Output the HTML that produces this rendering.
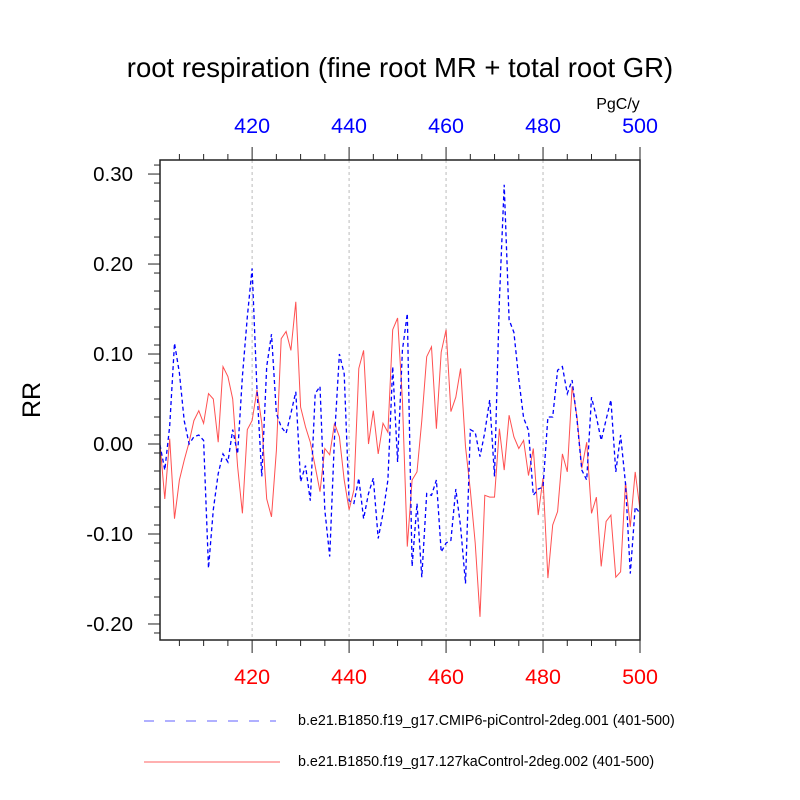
<!DOCTYPE html>
<html><head><meta charset="utf-8"><style>
body{margin:0;background:#fff;}
svg{display:block;font-family:"Liberation Sans",sans-serif;}
</style></head><body>
<svg id="chart" width="800" height="800" viewBox="0 0 800 800">
<text x="400" y="77" text-anchor="middle" font-size="27.5">root respiration (fine root MR + total root GR)</text>
<text x="618" y="109" text-anchor="middle" font-size="16">PgC/y</text>
<text transform="translate(40,400) rotate(-90)" text-anchor="middle" font-size="25">RR</text>
<g id="grid"></g>
<g id="axes"></g>
<g id="series"></g>
<rect x="160" y="160" width="480" height="480" fill="none" stroke="#222" stroke-width="1.5"/>
<line x1="144" y1="721" x2="276" y2="721" stroke="#6060ff" stroke-width="1" stroke-dasharray="10,11"/>
<text x="298" y="725" font-size="14.3">b.e21.B1850.f19_g17.CMIP6-piControl-2deg.001 (401-500)</text>
<line x1="144" y1="762" x2="280" y2="762" stroke="#ff6060" stroke-width="1"/>
<text x="298" y="766" font-size="14.3">b.e21.B1850.f19_g17.127kaControl-2deg.002 (401-500)</text>
</svg>
<script>
const startYear = 401;
const xTicks = [420, 440, 460, 480, 500];
const yTicks = [0.30, 0.20, 0.10, 0.00, -0.10, -0.20];
const yTickLabels = ["0.30", "0.20", "0.10", "0.00", "-0.10", "-0.20"];
const bluePiControl = [-0.001,-0.029,0.02,0.112,0.079,0.026,0.0,0.008,0.01,0.004,
-0.138,-0.073,-0.033,-0.011,-0.02,0.016,-0.011,0.075,0.141,0.195,
0.06,-0.036,0.086,0.122,0.034,0.019,0.012,0.034,0.058,-0.042,
-0.024,-0.063,0.056,0.064,-0.073,-0.125,0.007,0.1,0.078,-0.063,
-0.066,-0.038,-0.083,-0.055,-0.038,-0.105,-0.077,-0.04,0.086,-0.02,
0.104,0.145,-0.136,-0.066,-0.148,-0.055,-0.057,-0.04,-0.12,-0.11,
-0.107,-0.05,-0.092,-0.155,0.016,0.013,-0.014,0.013,0.049,-0.036,
0.16,0.288,0.138,0.124,0.072,0.029,0.015,-0.057,-0.05,-0.048,
0.03,0.03,0.082,0.086,0.056,0.071,0.027,-0.029,-0.04,0.052,
0.03,0.004,0.027,0.049,-0.031,0.01,-0.044,-0.144,-0.07,-0.077];
const red127ka = [0.0,-0.061,0.006,-0.083,-0.04,-0.018,0.002,0.026,0.037,0.023,
0.056,0.05,0.002,0.086,0.075,0.05,-0.025,-0.077,0.016,0.026,
0.06,0.023,-0.061,-0.081,-0.007,0.117,0.125,0.104,0.158,0.041,
0.019,0.002,-0.025,-0.053,-0.005,-0.012,0.023,0.008,-0.04,-0.073,
-0.051,0.084,0.104,0.0,0.037,-0.011,0.023,0.013,0.127,0.14,
0.049,-0.114,-0.04,-0.031,0.026,0.097,0.108,0.017,0.102,0.127,
0.036,0.052,0.084,-0.003,-0.051,-0.11,-0.192,-0.057,-0.059,-0.059,
0.017,-0.029,0.032,0.008,-0.005,0.004,-0.035,-0.005,-0.079,-0.038,
-0.149,-0.09,-0.075,-0.011,-0.031,0.064,0.03,-0.027,0.002,-0.077,
-0.059,-0.136,-0.086,-0.079,-0.148,-0.142,-0.042,-0.092,-0.031,-0.073];

const NS = "http://www.w3.org/2000/svg";
const X0=160, X1=640, Y0=160, Y1=640;
const xMin=401, xMax=500, yMin=-0.2178, yMax=0.3156;
function xs(v){return X0+(v-xMin)/(xMax-xMin)*(X1-X0);}
function ys(v){return Y1-(v-yMin)/(yMax-yMin)*(Y1-Y0);}
function mk(tag, attrs, parent){const e=document.createElementNS(NS,tag);for(const k in attrs)e.setAttribute(k,attrs[k]);parent.appendChild(e);return e;}
const grid=document.getElementById('grid'), axes=document.getElementById('axes'), ser=document.getElementById('series');

xTicks.forEach(t=>{
  const x=xs(t);
  if(t<500){
    const g=mk('line',{x1:x,y1:Y0,x2:x,y2:Y1,stroke:'#bbb','stroke-width':1,'stroke-dasharray':'3,3'},grid);
    
    
  }
  const a=mk('line',{x1:x,y1:Y0,x2:x,y2:Y0-13,stroke:'#222','stroke-width':1},axes);
  
  
  const b=mk('line',{x1:x,y1:Y1,x2:x,y2:Y1+13,stroke:'#222','stroke-width':1},axes);
  
  
  const tt=mk('text',{x:x,y:133,'text-anchor':'middle','font-size':21.5,fill:'#0000ff'},axes);
  tt.textContent=t;
  
  
  const bt=mk('text',{x:x,y:684,'text-anchor':'middle','font-size':21.5,fill:'#ff0000'},axes);
  bt.textContent=t;
  
  
});
for(let m=405;m<500;m+=5){
  if(m%20===0) continue;
  const x=xs(m);
  const a=mk('line',{x1:x,y1:Y0,x2:x,y2:Y0-6,stroke:'#222','stroke-width':1},axes);
  
  
  const b=mk('line',{x1:x,y1:Y1,x2:x,y2:Y1+6,stroke:'#222','stroke-width':1},axes);
  
  
}
yTicks.forEach((t,i)=>{
  const y=ys(t);
  const a=mk('line',{x1:X0,y1:y,x2:X0-12,y2:y,stroke:'#222','stroke-width':1},axes);
  
  
  const tx=mk('text',{x:133,y:y+7,'text-anchor':'end','font-size':20.5},axes);
  tx.textContent=yTickLabels[i];
  
  
});
for(let k=-21;k<=31;k+=2){
  const v=k/100;
  if(Math.abs(Math.round(v*10)-v*10)<1e-6) continue;
  if(v<yMin||v>yMax) continue;
  const y=ys(v);
  const a=mk('line',{x1:X0,y1:y,x2:X0-6,y2:y,stroke:'#222','stroke-width':1},axes);
  
  
}
function pts(arr){return arr.map((v,i)=>xs(startYear+i).toFixed(1)+','+ys(v).toFixed(1)).join(' ');}
const r=mk('polyline',{points:pts(red127ka),fill:'none',stroke:'#ff5050','stroke-width':1},ser);


const bl=mk('polyline',{points:pts(bluePiControl),fill:'none',stroke:'#0000ff','stroke-width':1.3,'stroke-dasharray':'4,3'},ser);


</script>
</body></html>
